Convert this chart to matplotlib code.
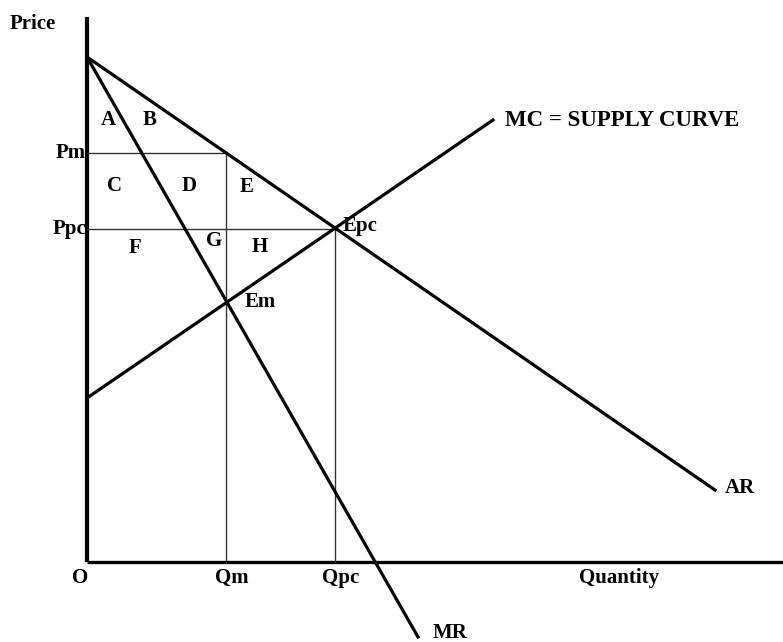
# monopoly vs perfect competition diagram
# welfare areas A..H between AR, MR and MC

import matplotlib.pyplot as plt

# curve end points (quantity, price), arbitrary units
ar_q = [0, 62.8]
ar_p = [50.5, 7.2]
mr_q = [0, 33.1]
mr_p = [50.5, -7.5]
mc_q = [0, 40.6]
mc_p = [16.4, 44.2]

# equilibrium values
q_m, p_m = 13.9, 40.9
q_pc, p_pc = 24.8, 33.3

# area letters and where they sit
area_labels = ['A', 'B', 'C', 'D', 'E', 'F', 'G', 'H']
area_q = [2.1, 6.3, 2.7, 10.2, 16.0, 4.8, 12.7, 17.3]
area_p = [44.2, 44.2, 37.6, 37.6, 37.5, 31.4, 32.1, 31.5]

q_ticks = [0, q_m, q_pc]
q_tick_labels = ['O', 'Qm', 'Qpc']
p_ticks = [p_m, p_pc]
p_tick_labels = ['Pm', 'Ppc']

plt.rcParams['font.family'] = ['Liberation Serif', 'DejaVu Serif']
plt.rcParams['font.weight'] = 'bold'


def draw_diagram():

    fig = plt.figure(figsize=(7.83, 6.42), dpi=100)
    ax = fig.add_axes([0, 0, 1, 1])
    ax.set_xlim(-8.7, 69.6)
    ax.set_ylim(-8.0, 56.2)
    ax.axis('off')

    # axes
    ax.plot([0, 0], [0, 54.5], color='black', lw=3.0, solid_capstyle='butt')
    ax.plot([0, 69.6], [0, 0], color='black', lw=2.4, solid_capstyle='butt')

    # guide lines
    thin = dict(color='#333333', lw=1.0)
    ax.plot([0, q_m], [p_m, p_m], **thin)
    ax.plot([0, q_pc], [p_pc, p_pc], **thin)
    ax.plot([q_m, q_m], [0, p_m], **thin)
    ax.plot([q_pc, q_pc], [0, p_pc], **thin)

    # curves
    ax.plot(ar_q, ar_p, color='black', lw=2.3)
    ax.plot(mr_q, mr_p, color='black', lw=2.3)
    ax.plot(mc_q, mc_p, color='black', lw=2.3)

    fs = 15
    for lab, q, p in zip(area_labels, area_q, area_p):
        ax.text(q, p, lab, fontsize=fs, ha='center', va='center')

    for q, lab in zip(q_ticks, q_tick_labels):
        dx = -0.7 if lab == 'O' else 0.6
        ax.text(q + dx, -1.6, lab, fontsize=fs, ha='center', va='center')
    for p, lab in zip(p_ticks, p_tick_labels):
        ax.text(-0.1, p, lab, fontsize=fs, ha='right', va='center')

    ax.text(-7.7, 53.8, 'Price', fontsize=fs, ha='left', va='center')
    ax.text(53.2, -1.6, 'Quantity', fontsize=fs, ha='center', va='center')
    ax.text(15.8, 26.0, 'Em', fontsize=fs, ha='left', va='center')
    ax.text(25.6, 33.6, 'Epc', fontsize=fs, ha='left', va='center')
    ax.text(41.8, 44.1, 'MC = SUPPLY CURVE', fontsize=16.5, ha='left', va='center')
    ax.text(63.8, 7.4, 'AR', fontsize=fs, ha='left', va='center')
    ax.text(34.6, -7.1, 'MR', fontsize=fs, ha='left', va='center')

    fig.savefig('out.png', dpi=100)


if __name__ == '__main__':
    draw_diagram()
